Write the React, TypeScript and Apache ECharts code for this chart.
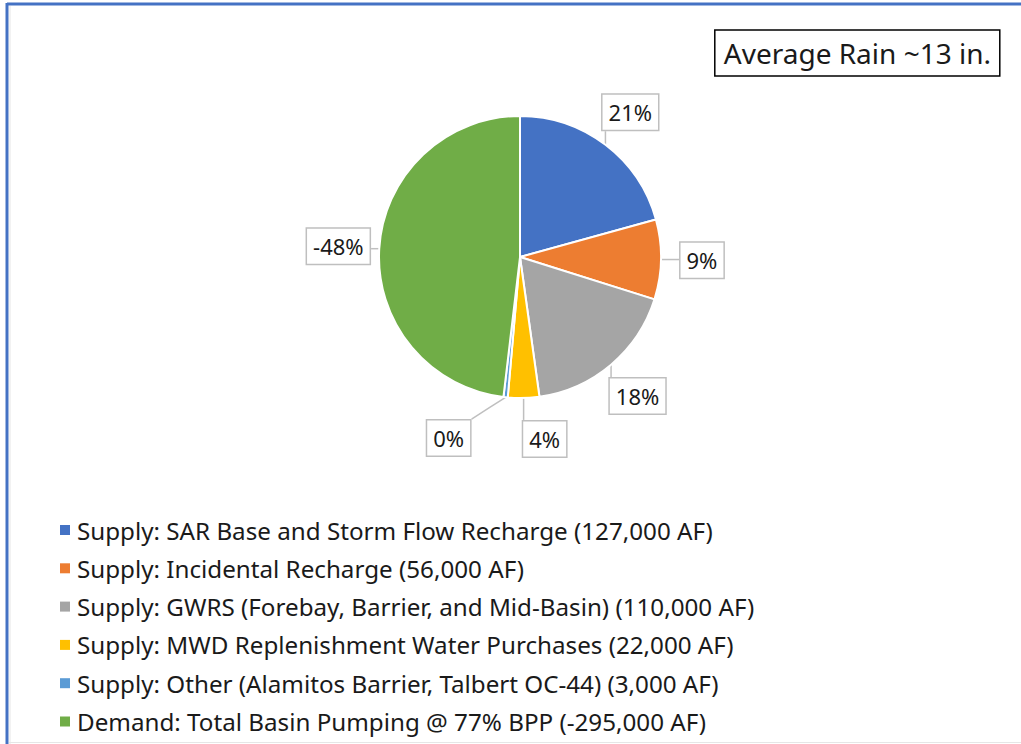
import React, { useEffect, useRef } from "react";
import * as echarts from "echarts";

const categories = [
  "Supply: SAR Base and Storm Flow Recharge",
  "Supply: Incidental Recharge",
  "Supply: GWRS (Forebay, Barrier, and Mid-Basin)",
  "Supply: MWD Replenishment Water Purchases",
  "Supply: Other (Alamitos Barrier, Talbert OC-44)",
  "Demand: Total Basin Pumping @ 77% BPP",
];
const values = [127000, 56000, 110000, 22000, 3000, -295000];
const colors = ["#4472C4", "#ED7D31", "#A5A5A5", "#FFC000", "#5B9BD5", "#70AD47"];
const titleText = "Average Rain ~13 in.";

const FONT = "Noto Sans";
const CX = 520;
const CY = 257;
const R = 141;
const LABEL_DIST = 182;

export default function App() {
  const ref = useRef<HTMLDivElement>(null);
  useEffect(() => {
    document.body.style.margin = "0";
    const chart = echarts.init(ref.current!, null, { renderer: "svg" });
    const names = categories.map(
      (c, i) => `${c} (${values[i].toLocaleString("en-US")} AF)`
    );
    const abs = values.map((v) => Math.abs(v));
    const total = abs.reduce((a, b) => a + b, 0);
    // mid angles (radians, clockwise from 12 o'clock)
    const mids: number[] = [];
    let acc = 0;
    abs.forEach((v) => {
      mids.push(((acc + v / 2) / total) * Math.PI * 2);
      acc += v;
    });
    const centers = mids.map((a) => ({
      x: CX + LABEL_DIST * Math.sin(a),
      y: CY - LABEL_DIST * Math.cos(a),
    }));
    // separate labels that would collide (small neighbouring slices)
    const W = 50;
    const H = 36;
    for (let i = 1; i < centers.length; i++) {
      const p = centers[i - 1];
      const c = centers[i];
      if (Math.abs(c.x - p.x) < W + 10 && Math.abs(c.y - p.y) < H) {
        const gap = Math.abs(c.x - p.x);
        const dir = c.x < p.x ? -1 : 1;
        p.x -= dir * 20;
        c.x += dir * (96 - gap - 20);
      }
    }

    chart.setOption({
      animation: false,
      backgroundColor: "#fff",
      color: colors,
      title: {
        text: titleText,
        right: 21,
        top: 30,
        padding: [9, 9, 9, 9],
        borderColor: "#000",
        borderWidth: 1.5,
        textStyle: { fontFamily: FONT, fontSize: 28, fontWeight: "normal", color: "#1a1a1a" },
      },
      legend: {
        orient: "vertical",
        left: 55,
        top: 513,
        itemWidth: 10,
        itemHeight: 10,
        itemGap: 14.3,
        icon: "rect",
        itemStyle: { borderWidth: 0, borderColor: "transparent" },
        textStyle: { fontFamily: FONT, fontSize: 24.2, color: "#1a1a1a", lineHeight: 24, padding: [0, 0, 0, 2] },
        data: names,
      },
      graphic: [
        { type: "line", shape: { x1: 7, y1: 4, x2: 1021, y2: 4 }, style: { stroke: "#4472C4", lineWidth: 3 } },
        { type: "line", shape: { x1: 7, y1: 3, x2: 7, y2: 744 }, style: { stroke: "#4472C4", lineWidth: 3 } },
        { type: "line", shape: { x1: 10, y1: 6, x2: 10, y2: 744 }, style: { stroke: "#e6e6e6", lineWidth: 1 } },
        { type: "line", shape: { x1: 9, y1: 742.5, x2: 1021, y2: 742.5 }, style: { stroke: "#e6e6e6", lineWidth: 1 } },
      ],
      series: [
        {
          type: "pie",
          center: [CX, CY],
          radius: R,
          startAngle: 90,
          clockwise: true,
          avoidLabelOverlap: false,
          itemStyle: { borderColor: "#fff", borderWidth: 2 },
          label: {
            show: true,
            position: "outside",
            fontFamily: FONT,
            fontSize: 22,
            color: "#1a1a1a",
            backgroundColor: "#fff",
            borderColor: "#bfbfbf",
            borderWidth: 1.5,
            padding: [7, 6, 6, 6],
            formatter: (p: any) => {
              const sign = values[p.dataIndex] < 0 ? "-" : "";
              return sign + Math.round(p.percent) + "%";
            },
          },
          labelLine: {
            show: true,
            length: 14,
            length2: 6,
            lineStyle: { color: "#bfbfbf", width: 1.5 },
          },
          labelLayout: (p: any) => {
            const i = p.dataIndex;
            const c = centers[i];
            const w = p.labelRect.width;
            const h = p.labelRect.height;
            const a = mids[i];
            const ex = CX + R * Math.sin(a);
            const ey = CY - R * Math.cos(a);
            const bx = Math.min(Math.max(ex, c.x - w / 2), c.x + w / 2);
            const by = Math.min(Math.max(ey, c.y - h / 2), c.y + h / 2);
            return {
              x: c.x,
              y: c.y,
              align: "center",
              verticalAlign: "middle",
              labelLinePoints: [
                [ex, ey],
                [(ex + bx) / 2, (ey + by) / 2],
                [bx, by],
              ],
            };
          },
          data: names.map((n, i) => ({ name: n, value: abs[i] })),
        },
      ],
    });
    return () => chart.dispose();
  }, []);
  return <div ref={ref} style={{ width: 1021, height: 744 }} />;
}
